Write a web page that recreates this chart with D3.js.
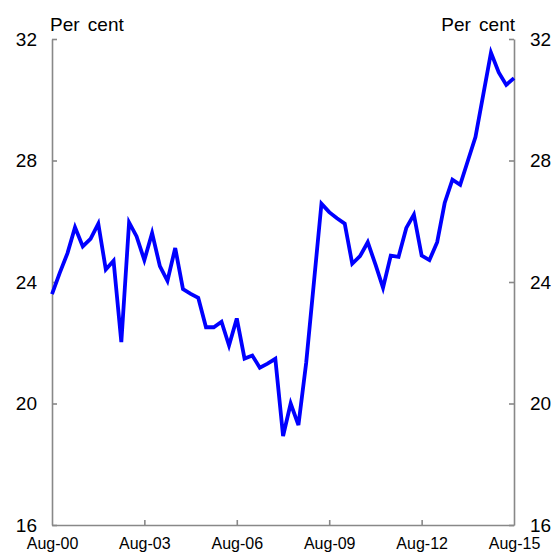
<!DOCTYPE html>
<html>
<head>
<meta charset="utf-8">
<script src="https://cdn.jsdelivr.net/npm/d3@7"></script>
<style>
  body { margin: 0; background: #fff; }
  svg text { font-family: Arial, "Liberation Sans", sans-serif; fill: #000; }
</style>
</head>
<body>
<div id="chart"></div>
<script>
// Quarterly values, Aug-00 to Aug-15 (per cent)
const startDate = new Date(2000, 7, 1);
const values = [
  23.6, 24.3, 24.95, 25.8, 25.17, 25.42, 25.92, 24.41, 24.7, 22.02,
  25.96, 25.5, 24.72, 25.61, 24.52, 24.04, 25.12, 23.77, 23.61, 23.48,
  22.51, 22.51, 22.69, 21.91, 22.8, 21.48, 21.58, 21.18, 21.31, 21.47,
  18.93, 20.0, 19.29, 21.34, 24.0, 26.58, 26.3, 26.1, 25.92, 24.6,
  24.85, 25.31, 24.57, 23.81, 24.87, 24.83, 25.78, 26.22, 24.87, 24.72,
  25.31, 26.6, 27.37, 27.2, 28.0, 28.77, 30.16, 31.55, 30.9, 30.49,
  30.71
];
const yTicks = [16, 20, 24, 28, 32];
const xTickLabels = ["Aug-00", "Aug-03", "Aug-06", "Aug-09", "Aug-12", "Aug-15"];
const unitLabel = "Per cent";

const data = values.map((v, i) => ({ date: d3.timeMonth.offset(startDate, 3 * i), value: v }));
const xTickDates = xTickLabels.map((_, i) => d3.timeMonth.offset(startDate, 36 * i));

const width = 555, height = 555;
const margin = { top: 39, right: 41, bottom: 30, left: 52 };
const innerW = width - margin.left - margin.right;
const innerH = height - margin.top - margin.bottom;

const svg = d3.select("#chart").append("svg")
  .attr("width", width)
  .attr("height", height);

const g = svg.append("g").attr("transform", `translate(${margin.left},${margin.top})`);

const x = d3.scaleTime()
  .domain([startDate, xTickDates[xTickDates.length - 1]])
  .range([0, innerW]);

const y = d3.scaleLinear()
  .domain([16, 32])
  .range([innerH, 0]);

const axisColor = "#888";

// Left axis (ticks point inward)
const left = g.append("g")
  .call(d3.axisLeft(y).tickValues(yTicks).tickSize(-5).tickSizeOuter(0).tickPadding(15));
// Right axis
const right = g.append("g")
  .attr("transform", `translate(${innerW},0)`)
  .call(d3.axisRight(y).tickValues(yTicks).tickSize(-5).tickSizeOuter(0).tickPadding(16));
// Bottom axis
const bottom = g.append("g")
  .attr("transform", `translate(0,${innerH})`)
  .call(d3.axisBottom(x).tickValues(xTickDates).tickSize(-5).tickSizeOuter(0)
    .tickPadding(13).tickFormat((d, i) => xTickLabels[i]));

[left, right, bottom].forEach(a => {
  a.select(".domain").attr("stroke", axisColor).attr("stroke-width", 1.6);
  a.selectAll(".tick line").attr("stroke", axisColor).attr("stroke-width", 1.6);
  a.selectAll(".tick text").style("font-family", "Arial, 'Liberation Sans', sans-serif").attr("fill", "#000");
});
left.selectAll(".tick text").style("font-size", "19px");
right.selectAll(".tick text").style("font-size", "19px");
bottom.selectAll(".tick text").style("font-size", "16px");
bottom.selectAll(".tick line").filter((d, i) => i === 0 || i === xTickDates.length - 1).remove();

// Line
const line = d3.line()
  .x(d => x(d.date))
  .y(d => y(d.value));

g.append("path")
  .datum(data)
  .attr("fill", "none")
  .attr("stroke", "#0000ff")
  .attr("stroke-width", 3.8)
  .attr("stroke-linejoin", "miter")
  .attr("d", line);

// Unit labels
svg.append("text")
  .attr("x", margin.left - 2)
  .attr("y", 31)
  .style("font-size", "19px")
  .style("word-spacing", "3px")
  .text(unitLabel);

svg.append("text")
  .attr("x", margin.left + innerW + 1)
  .attr("y", 31)
  .attr("text-anchor", "end")
  .style("font-size", "19px")
  .style("word-spacing", "3px")
  .text(unitLabel);
</script>
</body>
</html>
